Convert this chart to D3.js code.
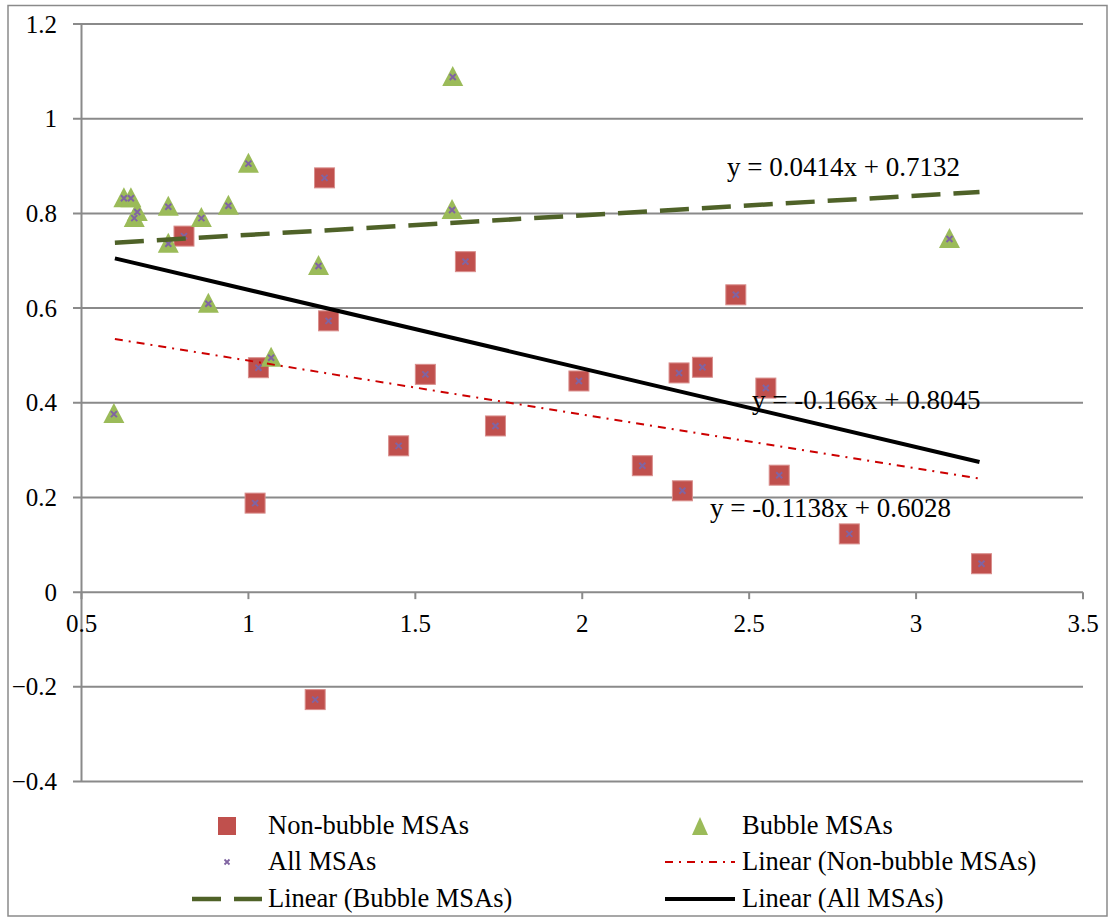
<!DOCTYPE html>
<html>
<head>
<meta charset="utf-8">
<script src="https://cdn.jsdelivr.net/npm/d3@7"></script>
<style>
  html, body { margin: 0; padding: 0; background: #fff; }
  svg { display: block; }
  text { font-family: "Liberation Serif", "Times New Roman", serif; fill: #000; }
</style>
</head>
<body>
<svg id="chart" width="1110" height="918"></svg>
<script>
// ---- Data ----
const nonBubbleX = [0.807, 1.228, 1.24, 1.65, 1.03, 1.02, 1.53, 1.45, 1.74, 1.99, 2.18, 2.29, 2.30, 2.36, 2.46, 2.55, 2.59, 2.80, 3.196, 1.20];
const nonBubbleY = [0.752, 0.875, 0.573, 0.698, 0.474, 0.188, 0.46, 0.309, 0.351, 0.446, 0.267, 0.463, 0.214, 0.475, 0.628, 0.431, 0.247, 0.123, 0.06, -0.227];
const bubbleX = [0.597, 0.627, 0.648, 0.658, 0.667, 0.76, 0.76, 0.859, 0.88, 0.94, 1.0, 1.068, 1.21, 1.61, 1.612, 3.10];
const bubbleY = [0.376, 0.832, 0.832, 0.79, 0.803, 0.814, 0.736, 0.79, 0.609, 0.816, 0.905, 0.495, 0.689, 0.807, 1.088, 0.746];

// Trendline equations as printed on the chart
const trendNames = ["Linear (Non-bubble MSAs)", "Linear (Bubble MSAs)", "Linear (All MSAs)"];
const trendSlopes = [-0.1138, 0.0414, -0.166];
const trendIntercepts = [0.6028, 0.7132, 0.8045];
const trendLabels = ["y = -0.1138x + 0.6028", "y = 0.0414x + 0.7132", "y = -0.166x + 0.8045"];
const trendRange = [0.6, 3.19];

const xTicks = [0.5, 1, 1.5, 2, 2.5, 3, 3.5];
const yTicks = [-0.4, -0.2, 0, 0.2, 0.4, 0.6, 0.8, 1, 1.2];

// ---- Layout ----
const svg = d3.select("#chart");
const x = d3.scaleLinear().domain([0.5, 3.5]).range([81.5, 1083]);
const y = d3.scaleLinear().domain([-0.4, 1.2]).range([781.5, 24]);
const FONT = 25, LEGFONT = 26.5, EQFONT = 27;
const gridColor = "#8a8a8a";

// outer border
svg.append("rect").attr("x", 8).attr("y", 5.5).attr("width", 1099).attr("height", 910.5)
  .attr("fill", "#fff").attr("stroke", "#8a8a8a").attr("stroke-width", 1.5);

// horizontal gridlines (extend left as tick marks)
svg.append("g").selectAll("line").data(yTicks).join("line")
  .attr("x1", 73).attr("x2", x(3.5))
  .attr("y1", d => y(d)).attr("y2", d => y(d))
  .attr("stroke", gridColor).attr("stroke-width", 2);

// y axis line
svg.append("line").attr("x1", x(0.5)).attr("x2", x(0.5)).attr("y1", y(1.2)).attr("y2", y(-0.4))
  .attr("stroke", gridColor).attr("stroke-width", 2);

// x axis ticks at y=0
svg.append("g").selectAll("line").data(xTicks).join("line")
  .attr("x1", d => x(d)).attr("x2", d => x(d))
  .attr("y1", y(0)).attr("y2", y(0) + 7)
  .attr("stroke", gridColor).attr("stroke-width", 2);

// y tick labels
svg.append("g").selectAll("text").data(yTicks).join("text")
  .attr("x", 57).attr("y", d => y(d) + 8.5)
  .attr("text-anchor", "end").attr("font-size", FONT)
  .text(d => d3.format("")(d));

// x tick labels
svg.append("g").selectAll("text").data(xTicks).join("text")
  .attr("x", d => x(d)).attr("y", 632)
  .attr("text-anchor", "middle").attr("font-size", FONT)
  .text(d => d3.format("")(d));

// ---- Markers ----
const nonBubble = nonBubbleX.map((v, i) => [v, nonBubbleY[i]]);
const bubble = bubbleX.map((v, i) => [v, bubbleY[i]]);
const all = nonBubble.concat(bubble);

svg.append("g").selectAll("rect").data(nonBubble).join("rect")
  .attr("x", d => x(d[0]) - 10).attr("y", d => y(d[1]) - 10)
  .attr("width", 20).attr("height", 20)
  .attr("fill", "#C0504D").attr("stroke", "#d98e8c").attr("stroke-width", 1);

svg.append("g").selectAll("path").data(bubble).join("path")
  .attr("d", "M0,-11 L10.5,9 L-10.5,9 Z")
  .attr("transform", d => `translate(${x(d[0])},${y(d[1])})`)
  .attr("fill", "#9BBB59");

const cross = "M-3,-3 L3,3 M-3,3 L3,-3";
svg.append("g").selectAll("path").data(all).join("path")
  .attr("d", cross)
  .attr("transform", d => `translate(${x(d[0])},${y(d[1])})`)
  .attr("stroke", "#8064A2").attr("stroke-width", 2).attr("fill", "none");

// ---- Trendlines ----
const trendStyles = [
  { color: "#CC0000", width: 2, dash: "8,6,2,6" },
  { color: "#4F6228", width: 4.5, dash: "29,13" },
  { color: "#000000", width: 4, dash: null }
];
const line = d3.line().x(d => x(d[0])).y(d => y(d[1]));
trendSlopes.forEach((m, i) => {
  const pts = trendRange.map(xv => [xv, m * xv + trendIntercepts[i]]);
  svg.append("path").attr("d", line(pts))
    .attr("fill", "none").attr("stroke", trendStyles[i].color)
    .attr("stroke-width", trendStyles[i].width)
    .attr("stroke-dasharray", trendStyles[i].dash);
});

// trendline equation labels
const labelPos = [[710, 517], [727, 176], [752, 409]];
svg.append("g").selectAll("text").data(trendLabels).join("text")
  .attr("x", (d, i) => labelPos[i][0]).attr("y", (d, i) => labelPos[i][1])
  .attr("font-size", EQFONT).text(d => d);

// ---- Legend ----
const legend = svg.append("g");
const col1 = 227, col2 = 700, txt1 = 268, txt2 = 742;
const rows = [826, 862, 899];
legend.append("rect").attr("x", col1 - 9).attr("y", rows[0] - 9).attr("width", 18).attr("height", 18)
  .attr("fill", "#C0504D");
legend.append("path").attr("d", "M0,-9 L8,9 L-8,9 Z").attr("transform", `translate(${col2},${rows[0]})`)
  .attr("fill", "#9BBB59");
legend.append("path").attr("d", "M-2.5,-2.5 L2.5,2.5 M-2.5,2.5 L2.5,-2.5")
  .attr("transform", `translate(${col1},${rows[1]})`)
  .attr("stroke", "#8064A2").attr("stroke-width", 1.8);
const legLines = [[665, 735, rows[1], 0], [192, 262, rows[2], 1], [665, 735, rows[2], 2]];
legLines.forEach(([a, b, yy, k]) => {
  legend.append("line").attr("x1", a).attr("x2", b).attr("y1", yy).attr("y2", yy)
    .attr("stroke", trendStyles[k].color).attr("stroke-width", trendStyles[k].width)
    .attr("stroke-dasharray", trendStyles[k].dash);
});
const legTexts = [
  ["Non-bubble MSAs", txt1, rows[0]], ["Bubble MSAs", txt2, rows[0]],
  ["All MSAs", txt1, rows[1]], [trendNames[0], txt2, rows[1]],
  [trendNames[1], txt1, rows[2]], [trendNames[2], txt2, rows[2]]
];
legend.selectAll("text").data(legTexts).join("text")
  .attr("x", d => d[1]).attr("y", d => d[2] + 8)
  .attr("font-size", LEGFONT).text(d => d[0]);
</script>
</body>
</html>
